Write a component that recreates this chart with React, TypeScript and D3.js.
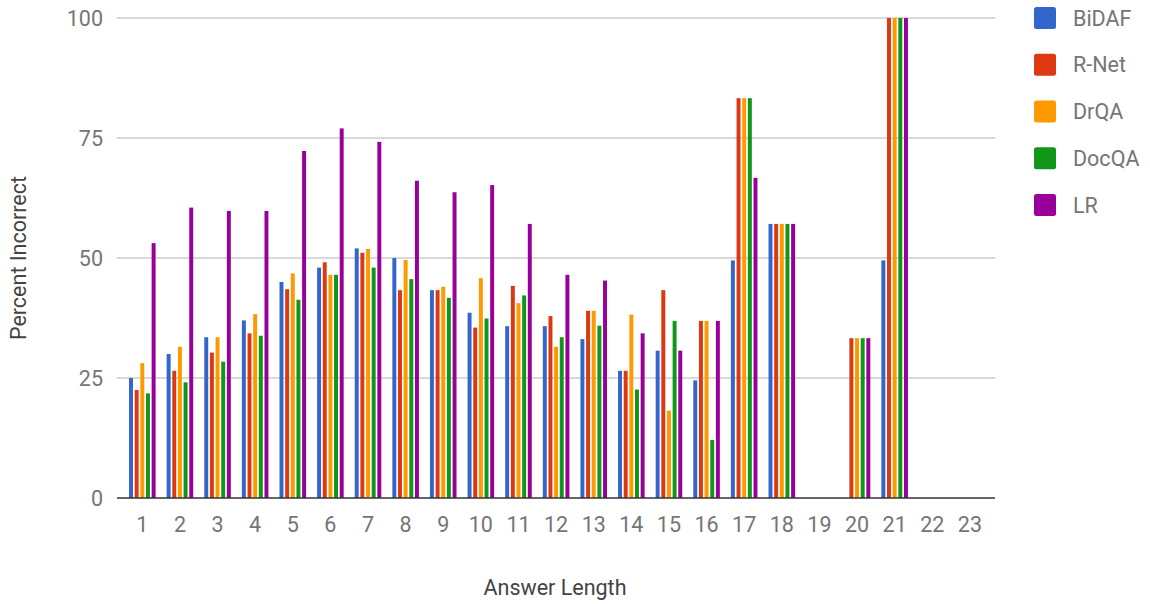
import React from "react";
import * as d3 from "d3";

const categories = ["1","2","3","4","5","6","7","8","9","10","11","12","13","14","15","16","17","18","19","20","21","22","23"];
const seriesNames = ["BiDAF", "R-Net", "DrQA", "DocQA", "LR"];
const seriesColors = ["#3366cc", "#dc3912", "#ff9900", "#109618", "#990099"];

const bidaf: (number | null)[] = [25, 30, 33.5, 37, 45, 48, 52, 50, 43.3, 38.6, 35.8, 35.8, 33.1, 26.5, 30.7, 24.5, 49.5, 57.1, null, null, 49.5, null, null];
const rnet: (number | null)[] = [22.5, 26.5, 30.3, 34.3, 43.5, 49.1, 51.1, 43.3, 43.3, 35.5, 44.2, 37.9, 39, 26.5, 43.3, 36.9, 83.3, 57.1, null, 33.3, 100, null, null];
const drqa: (number | null)[] = [28.1, 31.5, 33.5, 38.3, 46.8, 46.5, 51.9, 49.6, 44, 45.8, 40.6, 31.5, 39, 38.2, 18.2, 36.9, 83.3, 57.1, null, 33.3, 100, null, null];
const docqa: (number | null)[] = [21.8, 24.1, 28.4, 33.8, 41.3, 46.5, 48, 45.6, 41.7, 37.4, 42.2, 33.5, 35.9, 22.6, 36.9, 12.1, 83.3, 57.1, null, 33.3, 100, null, null];
const lr: (number | null)[] = [53.1, 60.5, 59.8, 59.8, 72.3, 77, 74.2, 66.1, 63.7, 65.2, 57.1, 46.5, 45.3, 34.3, 30.7, 36.9, 66.7, 57.1, null, 33.3, 100, null, null];
const seriesValues = [bidaf, rnet, drqa, docqa, lr];
const yTicks = [0, 25, 50, 75, 100];

const FONT = "Roboto, 'Noto Sans', Arial, sans-serif";

export default function App() {
  const width = 1150;
  const height = 604;
  const x = d3.scaleBand<string>().domain(categories).range([123.5, 988.7]).padding(0);
  const inner = d3
    .scaleBand<string>()
    .domain(seriesNames)
    .range([-14.125, 14.125])
    .paddingInner(0.3)
    .paddingOuter(0.15);
  const y = d3.scaleLinear().domain([0, 100]).range([498, 18]);
  const gridX0 = 117;
  const gridX1 = 995;

  return (
    <svg
      width={width}
      height={height}
      style={{ position: "absolute", left: 0, top: 0, background: "#fff" }}
      fontFamily={FONT}
    >
      {yTicks.map((t) => (
        <g key={t}>
          {t !== 0 && (
            <line x1={gridX0} x2={gridX1} y1={y(t)} y2={y(t)} stroke="#cccccc" strokeWidth={1.4} />
          )}
          <text
            x={103}
            y={y(t)}
            textAnchor="end"
            dominantBaseline="central"
            fontSize={21.5}
            fill="#757575"
          >
            {t}
          </text>
        </g>
      ))}
      {seriesNames.map((s, si) =>
        categories.map((c, ci) => {
          const v = seriesValues[si][ci];
          if (v == null || v <= 0) return null;
          const cx = (x(c) as number) + x.bandwidth() / 2;
          return (
            <rect
              key={s + c}
              x={cx + (inner(s) as number)}
              y={y(v)}
              width={inner.bandwidth()}
              height={y(0) - y(v)}
              fill={seriesColors[si]}
            />
          );
        })
      )}
      <line x1={gridX0} x2={gridX1} y1={y(0)} y2={y(0)} stroke="#333333" strokeWidth={1.4} />
      {categories.map((c) => (
        <text
          key={c}
          x={(x(c) as number) + x.bandwidth() / 2}
          y={524}
          textAnchor="middle"
          dominantBaseline="central"
          fontSize={21.5}
          fill="#757575"
        >
          {c}
        </text>
      ))}
      <text x={555} y={587} textAnchor="middle" dominantBaseline="central" fontSize={21.5} fill="#444444">
        Answer Length
      </text>
      <text
        transform={`translate(18,258) rotate(-90)`}
        textAnchor="middle"
        dominantBaseline="central"
        fontSize={21.5}
        fill="#444444"
      >
        Percent Incorrect
      </text>
      {seriesNames.map((s, i) => {
        const cy = 18 + i * 46.75;
        return (
          <g key={s}>
            <rect x={1034} y={cy - 11} width={22} height={22} rx={2.5} fill={seriesColors[i]} />
            <text x={1073} y={cy} dominantBaseline="central" fontSize={21.5} fill="#757575">
              {s}
            </text>
          </g>
        );
      })}
    </svg>
  );
}
